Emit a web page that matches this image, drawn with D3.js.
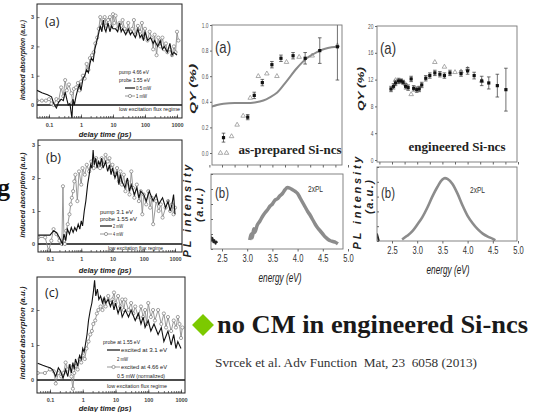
<!DOCTYPE html>
<html>
<head>
<meta charset="utf-8">
<script src="https://cdn.jsdelivr.net/npm/d3@7"></script>
<style>
body { margin: 0; background: #fff; }
svg { display: block; }
.bi { font-family: "Liberation Sans", Arial, sans-serif; font-weight: bold; font-style: italic; }
.serif { font-family: "Liberation Serif", "Times New Roman", serif; }
</style>
</head>
<body>
<div id="chart"></div>
<script>
// ---- transient absorption traces, [delay (ps), induced absorption] ----
const traceA_05mW = [[0.042,0.5],[0.06,0.42],[0.09,0.35],[0.12,0.28],[0.14,0.05],[0.17,-0.1],[0.2,0.1],[0.24,0.2],[0.28,0.15],[0.32,0.45],[0.36,0.2],[0.4,0.0],[0.45,0.05],[0.52,-0.45],[0.56,0.2],[0.62,0.0],[0.7,0.3],[0.8,0.55],[0.9,0.7],[1.0,0.5],[1.15,0.9],[1.3,1.0],[1.5,1.2],[1.7,1.1],[1.9,1.4],[2.1,1.6],[2.4,1.5],[2.7,1.9],[3.0,2.1],[3.5,2.4],[4.0,2.7],[4.5,2.5],[5,2.9],[5.5,2.6],[6,2.5],[7,2.8],[8,2.5],[9,2.7],[10,2.6],[12,2.6],[14,2.5],[16,2.8],[18,2.5],[20,2.6],[25,2.4],[30,2.6],[35,2.4],[40,2.5],[50,2.3],[60,2.6],[70,2.3],[80,2.4],[90,2.2],[100,2.5],[120,2.2],[150,2.3],[180,2.1],[200,2.2],[250,2.0],[300,2.2],[350,1.9],[400,2.0],[500,1.8],[600,2.1],[700,1.7],[800,1.8],[1000,1.7]];
const traceA_1mW = [[0.042,0.15],[0.06,0.15],[0.08,0.15],[0.1,0.2],[0.12,0.05],[0.14,0.0],[0.17,0.2],[0.2,0.15],[0.24,0.6],[0.28,0.3],[0.32,0.85],[0.36,0.5],[0.42,0.7],[0.5,0.4],[0.55,0.1],[0.6,0.55],[0.7,0.6],[0.8,0.75],[0.9,0.5],[1.0,0.8],[1.15,1.0],[1.3,0.9],[1.5,1.4],[1.7,1.2],[1.9,1.6],[2.2,1.7],[2.5,1.8],[2.8,2.1],[3.2,2.3],[3.6,2.6],[4.0,3.0],[4.5,2.7],[5,2.9],[5.5,3.0],[6.2,2.7],[7,2.9],[8,3.0],[9,2.7],[10,3.1],[11,2.8],[12,3.05],[14,2.6],[16,2.8],[18,2.7],[20,2.9],[23,2.6],[26,2.5],[30,2.8],[35,2.5],[40,2.6],[45,2.9],[50,2.4],[60,2.7],[70,2.5],[80,2.8],[90,2.3],[100,2.6],[120,2.2],[140,2.5],[160,2.3],[180,1.9],[200,2.4],[230,1.7],[260,2.3],[300,2.0],[350,2.3],[400,1.9],[450,2.1],[500,1.8],[600,1.9],[700,1.7],[800,2.0],[900,1.8],[1000,2.5],[1100,2.2]];
const traceB_2mW = [[0.042,0.27],[0.07,0.27],[0.1,0.27],[0.13,0.4],[0.16,0.35],[0.2,0.2],[0.25,0.0],[0.28,0.3],[0.32,0.1],[0.36,0.45],[0.42,0.3],[0.48,0.5],[0.55,0.35],[0.62,0.5],[0.7,0.4],[0.8,0.6],[0.9,0.45],[1.0,0.7],[1.1,0.55],[1.25,1.0],[1.4,1.3],[1.6,1.8],[1.8,2.1],[2.0,2.4],[2.2,2.3],[2.4,2.85],[2.6,2.4],[2.9,2.6],[3.2,2.3],[3.6,2.5],[4,2.4],[4.5,2.6],[5,2.3],[6,2.5],[7,2.2],[8,2.4],[9,2.1],[10,2.3],[12,2.0],[14,2.2],[16,1.8],[18,2.1],[20,1.9],[25,1.7],[30,2.0],[35,1.6],[40,1.8],[50,1.5],[60,1.7],[70,1.4],[80,1.6],[100,1.5],[120,1.3],[150,1.6],[200,1.3],[250,1.5],[300,1.2],[400,1.4],[500,1.1],[600,1.3],[700,1.0],[800,1.2],[900,1.5],[1000,0.9]];
const traceB_4mW = [[0.042,0.2],[0.07,0.2],[0.09,-0.2],[0.11,0.1],[0.13,0.45],[0.16,0.3],[0.2,0.1],[0.24,0.0],[0.26,1.75],[0.28,0.1],[0.3,0.0],[0.33,0.4],[0.37,0.6],[0.42,0.9],[0.46,1.2],[0.5,1.4],[0.55,1.6],[0.6,1.9],[0.65,2.1],[0.75,1.3],[0.85,2.2],[1.0,1.8],[1.1,2.3],[1.3,2.1],[1.5,2.4],[1.8,2.2],[2.1,2.5],[2.5,2.3],[3,2.6],[3.5,2.4],[4,2.3],[4.5,2.6],[5,2.4],[6,2.7],[7,2.5],[8,2.6],[9,2.3],[10,2.4],[12,2.1],[14,2.3],[16,1.9],[18,2.2],[20,1.8],[23,2.1],[26,1.6],[30,1.9],[35,1.5],[40,2.2],[45,1.7],[50,1.4],[60,1.8],[70,1.3],[80,1.6],[90,0.9],[100,1.5],[120,1.2],[140,1.6],[160,1.1],[180,1.4],[200,0.6],[250,1.3],[300,1.0],[350,1.2],[400,0.8],[500,1.1],[600,1.3],[700,1.0],[800,1.2],[900,0.9],[1000,1.1]];
const traceC_31eV = [[0.042,0.48],[0.06,0.42],[0.08,0.38],[0.1,0.35],[0.12,0.3],[0.15,0.1],[0.18,0.35],[0.21,0.25],[0.25,0.05],[0.3,0.3],[0.35,0.1],[0.4,0.45],[0.45,0.2],[0.5,0.5],[0.55,0.3],[0.6,0.6],[0.7,0.4],[0.8,0.7],[0.9,0.6],[1.0,0.9],[1.1,0.8],[1.2,1.0],[1.35,1.3],[1.5,1.7],[1.7,2.0],[1.9,2.2],[2.1,2.5],[2.3,2.85],[2.5,2.4],[2.8,2.6],[3.1,2.3],[3.5,2.4],[4,2.2],[4.5,2.35],[5,2.2],[6,2.3],[7,2.1],[8,2.25],[9,2.0],[10,2.2],[12,1.9],[14,2.1],[16,1.8],[20,2.0],[25,1.8],[30,2.0],[40,1.7],[50,1.9],[60,1.6],[70,1.8],[80,1.5],[100,1.7],[120,1.4],[150,1.6],[200,1.3],[250,1.5],[300,1.1],[400,1.4],[500,1.0],[600,1.3],[700,0.9],[800,1.1],[1000,0.9]];
const traceC_466eV = [[0.042,0.2],[0.07,0.2],[0.1,0.3],[0.13,0.25],[0.15,-0.1],[0.18,0.2],[0.22,0.1],[0.26,0.2],[0.3,0.5],[0.34,0.3],[0.4,0.4],[0.45,0.1],[0.5,-0.25],[0.55,0.2],[0.6,0.4],[0.7,0.3],[0.8,0.6],[0.9,0.5],[1.0,0.7],[1.15,0.6],[1.3,0.9],[1.5,1.1],[1.7,1.3],[1.9,1.4],[2.1,1.6],[2.4,1.7],[2.7,1.9],[3,2.0],[3.5,2.1],[4,2.0],[4.5,2.3],[5,2.1],[6,2.4],[7,2.2],[8,2.3],[9,2.5],[10,2.2],[12,2.4],[14,2.1],[16,2.3],[18,2.0],[20,2.3],[25,2.0],[30,2.2],[35,1.9],[40,2.1],[50,1.8],[60,2.1],[70,1.8],[80,2.0],[90,1.6],[100,2.2],[120,1.8],[140,2.0],[160,1.7],[200,2.0],[250,1.6],[300,1.9],[350,1.5],[400,1.8],[500,1.4],[600,1.7],[700,1.5],[800,1.8],[900,1.6],[1000,1.2],[1100,1.5]];
const delayTicks = [0.1, 1, 10, 100, 1000];
const absTicks = [0, 1, 2, 3];

// ---- quantum yield, [energy (eV), QY, error] ----
const qyPrepSquares = [[2.53,0.12,0.035],[3.01,0.28,0.02],[3.14,0.45,0.025],[3.30,0.55,0.025],[3.49,0.69,0.025],[3.67,0.74,0.025],[3.91,0.76,0.025],[4.15,0.74,0.045],[4.44,0.80,0.1],[4.79,0.83,0.26]];
const qyPrepTriangles = [[2.47,0.0],[2.59,0.0],[2.69,0.13],[2.80,0.22],[2.92,0.29],[3.06,0.43],[3.22,0.60],[3.39,0.62],[3.59,0.60],[3.78,0.71],[4.03,0.75],[4.29,0.76],[4.79,0.84]];
const qyPrepFit = [[2.28,0.36],[2.4,0.375],[2.53,0.385],[2.75,0.39],[2.99,0.39],[3.15,0.395],[3.32,0.41],[3.45,0.435],[3.59,0.47],[3.78,0.56],[3.98,0.66],[4.18,0.74],[4.3,0.77],[4.44,0.80],[4.6,0.82],[4.78,0.83]];
const qyEngSquares = [[2.48,10.6,0.4],[2.53,11.0,0.4],[2.57,11.5,0.4],[2.63,11.8,0.4],[2.68,11.8,0.3],[2.72,11.6,0.3],[2.77,11.0,0.4],[2.82,10.8,0.4],[2.88,12.1,0.4],[2.93,10.7,0.4],[2.99,10.5,0.4],[3.04,10.6,0.4],[3.09,11.2,0.4],[3.17,12.2,0.4],[3.25,12.6,0.4],[3.35,13.0,0.4],[3.45,12.8,0.4],[3.54,12.6,0.4],[3.65,13.0,0.4],[3.87,12.9,0.4],[4.0,13.3,0.5],[4.13,12.6,0.5],[4.28,11.8,0.7],[4.42,11.5,0.9],[4.59,11.1,1.7],[4.76,10.5,3.2]];
const qyEngTriangles = [[2.57,11.9],[2.77,11.3],[2.88,9.8],[3.35,14.6],[3.54,13.9],[3.75,13.1],[3.87,13.2],[4.0,13.6],[4.28,11.8]];
const energyTicks = [2.5, 3.0, 3.5, 4.0, 4.5, 5.0];
const energyMinor = [2.25, 2.75, 3.25, 3.75, 4.25, 4.75];
const qyTicksPrep = [0, 0.2, 0.4, 0.6, 0.8, 1.0];
const qyTicksEng = [0, 4, 8, 12, 16, 20];

// ---- PL spectra, [energy (eV), intensity (a.u.)] ----
const plPrepLow = [[2.23,0.2],[2.25,0.14],[2.27,0.18],[2.29,0.11],[2.31,0.15],[2.33,0.09],[2.35,0.12],[2.37,0.07],[2.39,0.1],[2.4,0.08]];
const plPrep2x = [[3.05,0.12],[3.08,0.2],[3.1,0.15],[3.13,0.27],[3.15,0.22],[3.2,0.32],[3.25,0.37],[3.3,0.43],[3.35,0.48],[3.4,0.52],[3.45,0.57],[3.5,0.6],[3.55,0.65],[3.6,0.67],[3.65,0.71],[3.7,0.74],[3.75,0.79],[3.8,0.82],[3.85,0.81],[3.9,0.79],[3.95,0.77],[4.0,0.74],[4.05,0.68],[4.1,0.62],[4.15,0.56],[4.2,0.5],[4.25,0.45],[4.3,0.39],[4.35,0.33],[4.4,0.28],[4.45,0.24],[4.5,0.2],[4.55,0.16],[4.6,0.13],[4.65,0.11],[4.7,0.1],[4.75,0.09],[4.8,0.07]];
const plEngLow = [[2.2,0.1],[2.22,0.05],[2.24,0.0]];
const plEng2x = [[2.7,0.02],[2.8,0.07],[2.9,0.13],[3.0,0.22],[3.1,0.32],[3.2,0.45],[3.3,0.6],[3.4,0.73],[3.5,0.83],[3.55,0.85],[3.6,0.84],[3.7,0.77],[3.8,0.64],[3.9,0.48],[4.0,0.34],[4.1,0.24],[4.2,0.16],[4.3,0.1],[4.4,0.06],[4.5,0.03],[4.55,0.01]];

const svg = d3.select("#chart").append("svg")
    .attr("width", 533)
    .attr("height", 412);

// squeeze text horizontally (no condensed face installed)
function squeeze(sel, f) {
    sel.each(function() {
        let w = this.getComputedTextLength();
        d3.select(this).attr("textLength", w * f).attr("lengthAdjust", "spacingAndGlyphs");
    });
}

let clipCount = 0;
function clipTo(box) {
    let id = "clip" + (clipCount++);
    svg.append("clipPath").attr("id", id)
        .append("rect")
        .attr("x", box.x0).attr("y", box.y0)
        .attr("width", box.x1 - box.x0).attr("height", box.y1 - box.y0);
    return `url(#${id})`;
}

/*
 * Left column: induced absorption vs delay time (log axis)
 */
function tracePanel(cfg) {
    let b = cfg.box;
    let g = svg.append("g");

    let x = d3.scaleLog().domain([0.1, 1000]).range(cfg.xr);
    let y = d3.scaleLinear().domain([0, 1]).range(cfg.yr);
    let xf = x.copy().domain([x.invert(b.x0), x.invert(b.x1)]).range([b.x0, b.x1]);

    let plot = g.append("g").attr("clip-path", clipTo(b));

    plot.append("line")
        .attr("x1", b.x0).attr("x2", b.x1)
        .attr("y1", y(0)).attr("y2", y(0))
        .attr("stroke", "#111").attr("stroke-width", 1.3);

    let line = d3.line().x(d => x(d[0])).y(d => y(d[1]));

    plot.append("path").datum(cfg.gray)
        .attr("d", line)
        .attr("fill", "none").attr("stroke", "#8c8c8c").attr("stroke-width", 0.9);
    plot.selectAll("circle.mk").data(cfg.gray).join("circle")
        .attr("class", "mk")
        .attr("cx", d => x(d[0])).attr("cy", d => y(d[1]))
        .attr("r", 1.6)
        .attr("fill", "#fff").attr("stroke", "#7a7a7a").attr("stroke-width", 0.7);
    plot.append("path").datum(cfg.black)
        .attr("d", line)
        .attr("fill", "none").attr("stroke", "#111").attr("stroke-width", 1.1);

    g.append("rect")
        .attr("x", b.x0).attr("y", b.y0)
        .attr("width", b.x1 - b.x0).attr("height", b.y1 - b.y0)
        .attr("fill", "none").attr("stroke", "#222").attr("stroke-width", 1);

    // axes
    let minor = g.append("g").attr("transform", `translate(0,${b.y1})`)
        .call(d3.axisBottom(xf).tickValues(xf.ticks()).tickSize(-2).tickFormat(""));
    let major = g.append("g").attr("transform", `translate(0,${b.y1})`)
        .call(d3.axisBottom(xf).tickValues(delayTicks).tickSize(-3.5).tickPadding(5)
            .tickFormat(d3.format("~g")));
    let yax = g.append("g").attr("transform", `translate(${b.x0},0)`)
        .call(d3.axisLeft(y).tickValues(absTicks.filter(v => y(v) > b.y0 && y(v) < b.y1))
            .tickSize(-2.5).tickPadding(3).tickFormat(d3.format("d")));
    [minor, major, yax].forEach(a => {
        a.select(".domain").remove();
        a.selectAll("line").attr("stroke", "#333").attr("stroke-width", 0.7);
        a.selectAll("text").attr("font-size", 5.5).attr("font-weight", "bold")
            .attr("fill", "#444").attr("font-family", "Liberation Sans, sans-serif");
    });

    g.append("text")
        .attr("x", b.x0 + 8).attr("y", cfg.labelY)
        .attr("font-family", "Open Sans, Liberation Sans, sans-serif")
        .attr("font-size", 12.5).attr("fill", "#222")
        .text(cfg.label);

    g.append("text").attr("class", "bi")
        .attr("transform", `translate(25,${cfg.yTitleMid}) rotate(-90)`)
        .attr("text-anchor", "middle").attr("font-size", 7.5).attr("fill", "#222")
        .attr("textLength", cfg.yTitleLen).attr("lengthAdjust", "spacingAndGlyphs")
        .text("induced absorption (a.u.)");

    g.append("text").attr("class", "bi")
        .attr("x", 105).attr("y", cfg.xTitleY)
        .attr("text-anchor", "middle").attr("font-size", 7.5).attr("fill", "#222")
        .text("delay time (ps)");

    // legend
    cfg.legend.forEach(l => {
        if (l.sample) {
            g.append("line")
                .attr("x1", l.sx0).attr("x2", l.sx1).attr("y1", l.y - 2).attr("y2", l.y - 2)
                .attr("stroke", l.sample === "black" ? "#111" : "#8c8c8c")
                .attr("stroke-width", l.sample === "black" ? 1.2 : 0.9);
            if (l.sample === "gray") {
                g.append("circle")
                    .attr("cx", (l.sx0 + l.sx1) / 2).attr("cy", l.y - 2).attr("r", 1.6)
                    .attr("fill", "#fff").attr("stroke", "#7a7a7a").attr("stroke-width", 0.7);
            }
        }
        g.append("text")
            .attr("x", l.x).attr("y", l.y)
            .attr("font-family", "Liberation Sans, sans-serif")
            .attr("font-size", 5.6).attr("fill", "#222")
            .attr("textLength", l.len).attr("lengthAdjust", "spacingAndGlyphs")
            .text(l.text);
    });
}

tracePanel({
    box: {x0: 37, y0: 4, x1: 182, y1: 118},
    xr: [49, 177], yr: [105, 75.7],
    black: traceA_05mW, gray: traceA_1mW,
    label: "(a)", labelY: 26,
    yTitleMid: 60, yTitleLen: 80, xTitleY: 137,
    legend: [
        {text: "pump 4.66 eV", x: 119, y: 74, len: 30},
        {text: "probe 1.55 eV", x: 119, y: 82, len: 31},
        {text: "0.5 mW", x: 136, y: 90, len: 15, sample: "black", sx0: 125, sx1: 135},
        {text: "1 mW", x: 136, y: 98, len: 11, sample: "gray", sx0: 125, sx1: 135},
        {text: "low excitation flux regime", x: 119, y: 111, len: 61}
    ]
});

tracePanel({
    box: {x0: 38, y0: 140, x1: 182, y1: 252},
    xr: [50, 175], yr: [244, 211],
    black: traceB_2mW, gray: traceB_4mW,
    label: "(b)", labelY: 162,
    yTitleMid: 195, yTitleLen: 85, xTitleY: 273,
    legend: [
        {text: "pump 3.1 eV", x: 100, y: 214, len: 33},
        {text: "probe 1.55 eV", x: 100, y: 221, len: 37},
        {text: "2 mW", x: 113, y: 228, len: 10, sample: "black", sx0: 100, sx1: 112},
        {text: "4 mW", x: 113, y: 236, len: 10, sample: "gray", sx0: 100, sx1: 112},
        {text: "low excitation flux regime", x: 108, y: 250, len: 55}
    ]
});

tracePanel({
    box: {x0: 37, y0: 277, x1: 185, y1: 393},
    xr: [50, 181], yr: [380, 345],
    black: traceC_31eV, gray: traceC_466eV,
    label: "(c)", labelY: 297,
    yTitleMid: 333, yTitleLen: 93, xTitleY: 411,
    legend: [
        {text: "probe at 1.55 eV", x: 103, y: 344, len: 37},
        {text: "excited at 3.1 eV", x: 121, y: 352, len: 46, sample: "black", sx0: 107, sx1: 120},
        {text: "2 mW", x: 117, y: 361, len: 11},
        {text: "excited at 4.66 eV", x: 121, y: 369, len: 46, sample: "gray", sx0: 107, sx1: 120},
        {text: "0.5 mW (normalized)", x: 117, y: 378, len: 48},
        {text: "low excitation flux regime", x: 107, y: 388, len: 60}
    ]
});

/*
 * Middle and right columns: QY and PL vs energy
 */
function frameAxes(g, b, x, y, yTicks, yFmt, showX) {
    g.append("rect")
        .attr("x", b.x0).attr("y", b.y0)
        .attr("width", b.x1 - b.x0).attr("height", b.y1 - b.y0)
        .attr("fill", "none").attr("stroke", "#777").attr("stroke-width", 0.9);

    let xa = g.append("g").attr("transform", `translate(0,${b.y1})`);
    if (showX) {
        xa.call(d3.axisBottom(x).tickValues(energyTicks).tickSize(2.5).tickPadding(3)
            .tickFormat(d3.format(".1f")));
    } else {
        xa.call(d3.axisBottom(x).tickValues(energyTicks.concat(energyMinor))
            .tickSize(2.5).tickFormat(""));
    }
    xa.select(".domain").remove();
    xa.selectAll("line").attr("stroke", "#666");
    xa.selectAll("text").attr("font-family", "Liberation Sans, sans-serif")
        .attr("font-size", 10.5).attr("fill", "#333");
    squeeze(xa.selectAll("text"), 0.72);

    let ya = g.append("g").attr("transform", `translate(${b.x0},0)`);
    if (yTicks) {
        ya.call(d3.axisLeft(y).tickValues(yTicks).tickSize(2).tickPadding(1.5).tickFormat(yFmt));
    } else {
        ya.call(d3.axisLeft(y).ticks(5).tickSize(-2).tickFormat(""));
    }
    ya.select(".domain").remove();
    ya.selectAll("line").attr("stroke", "#666");
    ya.selectAll("text").attr("font-family", "Liberation Sans, sans-serif")
        .attr("font-size", 6.5).attr("fill", "#555");
    squeeze(ya.selectAll("text"), 0.75);
}

function qyPanel(cfg) {
    let b = cfg.box;
    let g = svg.append("g");
    let x = d3.scaleLinear().domain([2.5, 5.0]).range(cfg.xr);
    let y = d3.scaleLinear().domain(cfg.yd).range(cfg.yr);
    let plot = g.append("g").attr("clip-path", clipTo(b));

    if (cfg.fit) {
        plot.append("path").datum(cfg.fit)
            .attr("d", d3.line().curve(d3.curveMonotoneX).x(d => x(d[0])).y(d => y(d[1])))
            .attr("fill", "none").attr("stroke", "#8a8a8a").attr("stroke-width", 2);
    }

    plot.selectAll("path.tri").data(cfg.triangles).join("path")
        .attr("class", "tri")
        .attr("transform", d => `translate(${x(d[0])},${y(d[1])})`)
        .attr("d", d3.symbol(d3.symbolTriangle).size(9))
        .attr("fill", "none").attr("stroke", "#888").attr("stroke-width", 0.7);

    plot.selectAll("line.err").data(cfg.squares).join("line")
        .attr("class", "err")
        .attr("x1", d => x(d[0])).attr("x2", d => x(d[0]))
        .attr("y1", d => y(d[1] - d[2])).attr("y2", d => y(d[1] + d[2]))
        .attr("stroke", "#333").attr("stroke-width", 0.7);
    ["lo", "hi"].forEach(k => {
        plot.selectAll("line.cap" + k).data(cfg.squares).join("line")
            .attr("class", "cap" + k)
            .attr("x1", d => x(d[0]) - 1.8).attr("x2", d => x(d[0]) + 1.8)
            .attr("y1", d => y(k === "lo" ? d[1] - d[2] : d[1] + d[2]))
            .attr("y2", d => y(k === "lo" ? d[1] - d[2] : d[1] + d[2]))
            .attr("stroke", "#333").attr("stroke-width", 0.7);
    });
    plot.selectAll("rect.sq").data(cfg.squares).join("rect")
        .attr("class", "sq")
        .attr("x", d => x(d[0]) - 1.6).attr("y", d => y(d[1]) - 1.6)
        .attr("width", 3.2).attr("height", 3.2)
        .attr("fill", "#111");

    frameAxes(g, b, x, y, cfg.yTicks, cfg.yFmt, false);

    g.append("text")
        .attr("x", b.x0 + 3).attr("y", b.y0 + 28)
        .attr("font-family", "Liberation Sans, sans-serif")
        .attr("font-size", 17).attr("fill", "#333")
        .attr("textLength", 16).attr("lengthAdjust", "spacingAndGlyphs")
        .text("(a)");

    g.append("text").attr("class", "serif")
        .attr("x", cfg.nameX).attr("y", cfg.nameY)
        .attr("text-anchor", "middle").attr("font-size", 13).attr("font-weight", "bold")
        .attr("fill", "#222")
        .text(cfg.name);

    g.append("text").attr("class", "bi")
        .attr("transform", `translate(${cfg.titleX},${cfg.titleY}) rotate(-90)`)
        .attr("text-anchor", "middle").attr("font-size", 9).attr("fill", "#222")
        .attr("textLength", cfg.titleLen).attr("lengthAdjust", "spacingAndGlyphs")
        .text("QY (%)");
}

function plPanel(cfg) {
    let b = cfg.box;
    let g = svg.append("g");
    let x = d3.scaleLinear().domain([2.5, 5.0]).range(cfg.xr);
    let y = d3.scaleLinear().domain([0, 1]).range([b.y1, b.y0]);
    let plot = g.append("g").attr("clip-path", clipTo(b));
    let line = d3.line().curve(d3.curveMonotoneX).x(d => x(d[0])).y(d => y(d[1]));

    plot.append("path").datum(cfg.high)
        .attr("d", line)
        .attr("fill", "none").attr("stroke", "#8c8c8c").attr("stroke-width", cfg.bandW);
    plot.append("path").datum(cfg.low)
        .attr("d", line)
        .attr("fill", "none").attr("stroke", "#222").attr("stroke-width", 2);

    frameAxes(g, b, x, y, null, null, true);

    g.append("text")
        .attr("x", b.x0 + 4).attr("y", cfg.labelY)
        .attr("font-family", "Liberation Sans, sans-serif")
        .attr("font-size", 14).attr("fill", "#333")
        .attr("textLength", 14).attr("lengthAdjust", "spacingAndGlyphs")
        .text("(b)");
    g.append("text")
        .attr("x", cfg.tagX).attr("y", cfg.tagY)
        .attr("font-family", "Liberation Sans, sans-serif")
        .attr("font-size", 9).attr("fill", "#333")
        .attr("textLength", 15).attr("lengthAdjust", "spacingAndGlyphs")
        .text("2xPL");

    g.append("text").attr("class", "bi")
        .attr("transform", `translate(${cfg.titleX},${cfg.titleY}) rotate(-90)`)
        .attr("text-anchor", "middle").attr("font-size", 11).attr("fill", "#222")
        .attr("textLength", 93).attr("lengthAdjust", "spacing")
        .text("PL intensity");
    g.append("text").attr("class", "bi")
        .attr("transform", `translate(${cfg.titleX + 12},${cfg.titleY - 6}) rotate(-90)`)
        .attr("text-anchor", "middle").attr("font-size", 11).attr("fill", "#222")
        .attr("textLength", 34).attr("lengthAdjust", "spacing")
        .text("(a.u.)");

    g.append("text")
        .attr("x", cfg.eX).attr("y", cfg.eY)
        .attr("text-anchor", "middle")
        .attr("font-family", "Liberation Sans, sans-serif")
        .attr("font-style", "italic").attr("font-size", 12).attr("fill", "#222")
        .attr("textLength", 43).attr("lengthAdjust", "spacingAndGlyphs")
        .text("energy (eV)");
}

qyPanel({
    box: {x0: 212, y0: 25, x1: 342, y1: 165},
    xr: [222, 348], yd: [0, 1], yr: [153, 25],
    squares: qyPrepSquares, triangles: qyPrepTriangles, fit: qyPrepFit,
    yTicks: qyTicksPrep, yFmt: d3.format(".1f"),
    name: "as-prepared Si-ncs", nameX: 290, nameY: 154,
    titleX: 196, titleY: 89, titleLen: 50
});

plPanel({
    box: {x0: 211, y0: 174, x1: 343, y1: 249},
    xr: [222, 348],
    low: plPrepLow, high: plPrep2x, bandW: 3.5,
    labelY: 198, tagX: 308, tagY: 192,
    titleX: 191, titleY: 211,
    eX: 280, eY: 282
});

qyPanel({
    box: {x0: 377, y0: 26, x1: 517, y1: 162},
    xr: [392, 518], yd: [0, 20], yr: [160, 26],
    squares: qyEngSquares, triangles: qyEngTriangles, fit: null,
    yTicks: qyTicksEng, yFmt: d3.format("d"),
    name: "engineered Si-ncs", nameX: 457, nameY: 151,
    titleX: 364, titleY: 89, titleLen: 44
});

plPanel({
    box: {x0: 377, y0: 167, x1: 517, y1: 241},
    xr: [392, 518],
    low: plEngLow, high: plEng2x, bandW: 2.6,
    labelY: 198, tagX: 470, tagY: 193,
    titleX: 361, titleY: 203,
    eX: 448, eY: 274
});

// ---- slide text ----
svg.append("path")
    .attr("transform", "translate(203,325) rotate(45)")
    .attr("d", d3.symbol(d3.symbolSquare).size(240))
    .attr("fill", "#7cc900");

svg.append("text").attr("class", "serif")
    .attr("x", 217).attr("y", 333)
    .attr("font-size", 25).attr("font-weight", "bold").attr("fill", "#1a1a1a")
    .attr("textLength", 311).attr("lengthAdjust", "spacingAndGlyphs")
    .text("no CM in engineered Si-ncs");

svg.append("text").attr("class", "serif")
    .attr("x", 215).attr("y", 367)
    .attr("font-size", 12.5).attr("fill", "#333")
    .style("white-space", "pre")
    .attr("textLength", 262).attr("lengthAdjust", "spacingAndGlyphs")
    .text("Svrcek et al. Adv Function  Mat, 23  6058 (2013)");

// cropped letter at the slide edge
svg.append("text").attr("class", "serif")
    .attr("x", -3).attr("y", 196)
    .attr("font-size", 26).attr("font-weight", "bold").attr("fill", "#111")
    .text("g");
</script>
</body>
</html>
